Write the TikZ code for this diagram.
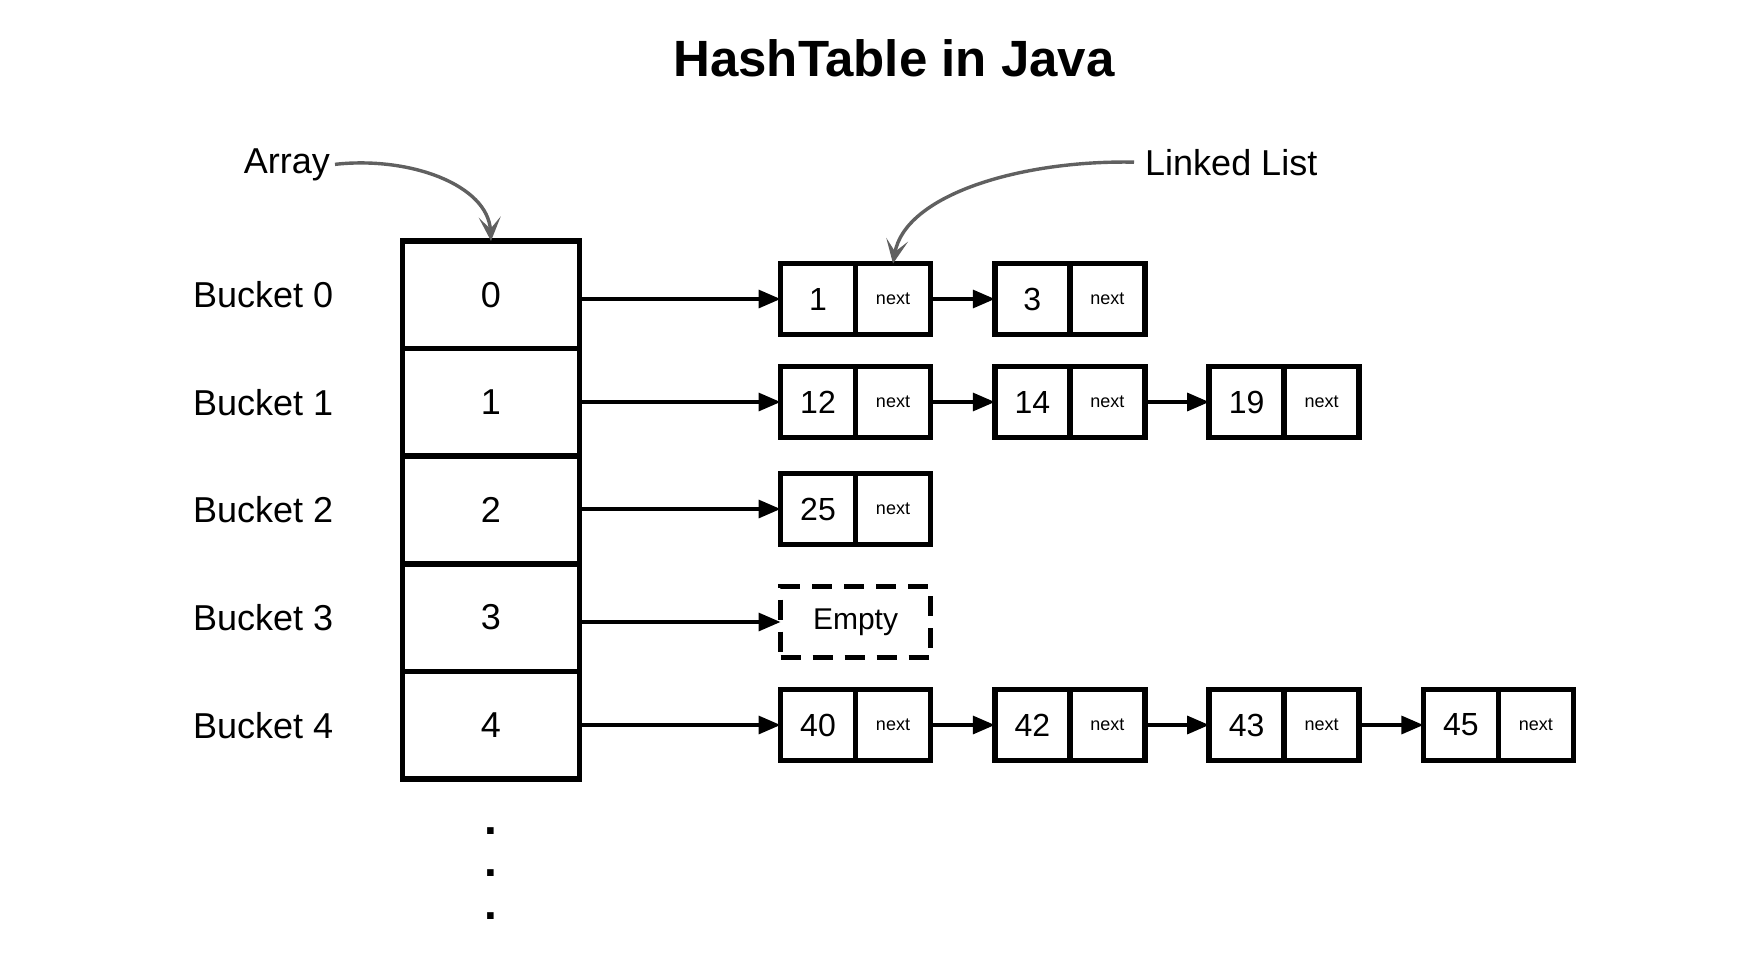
\documentclass[tikz,border=0pt]{standalone}
\usepackage{fontspec}
\setmainfont{Liberation Sans}
\usetikzlibrary{arrows.meta}
\definecolor{pgray}{HTML}{606060}
\tikzset{
  arrcell/.style={draw, line width=5.5pt, minimum width=177pt, minimum height=107.6pt, inner sep=0pt, outer sep=0pt, font=\fontsize{36}{36}\selectfont},
  cell/.style={draw, line width=5.5pt, minimum width=75pt, minimum height=71pt, inner sep=0pt, outer sep=0pt, font=\fontsize{32}{32}\selectfont},
  nextcell/.style={cell, font=\fontsize{18}{18}\selectfont},
  emptycell/.style={draw, line width=5.5pt, dash pattern=on 20pt off 12pt, minimum width=150pt, minimum height=71pt, inner sep=0pt, outer sep=0pt, font=\fontsize{30}{30}\selectfont},
  lbl/.style={inner sep=0pt, font=\fontsize{36}{36}\selectfont},
  link/.style={-{Triangle[length=22pt,width=18pt]}, line width=3.3pt},
  pointer/.style={-{Stealth[length=24pt,width=22pt,inset=12pt]}, line width=3.4pt, draw=pgray},
}
\newcommand\llnode[4]{%
  \node[cell] (#1) at (#2,#3) {#4};
  \node[nextcell, anchor=west] (#1n) at (#1.east) {next};}
\begin{document}
\begin{tikzpicture}[x=1pt,y=-1pt]
\useasboundingbox (0,0) rectangle (1756,974);
\fill[white] (0,0) rectangle (1756,974);
% title
\node[font=\fontsize{51}{51}\selectfont\bfseries, inner sep=0pt] (title) at (894,58) {HashTable in Java};
% array
\node[arrcell] (r0) at (491,294.8) {0};
\node[arrcell] (r1) at (491,402.4) {1};
\node[arrcell] (r2) at (491,510) {2};
\node[arrcell] (r3) at (491,617.6) {3};
\node[arrcell] (r4) at (491,725.2) {4};
% bucket labels
\node[lbl, anchor=west] (b0) at (193,294.8) {Bucket 0};
\node[lbl, anchor=west] (b1) at (193,402.4) {Bucket 1};
\node[lbl, anchor=west] (b2) at (193,510) {Bucket 2};
\node[lbl, anchor=west] (b3) at (193,617.6) {Bucket 3};
\node[lbl, anchor=west] (b4) at (193,725.2) {Bucket 4};
% dots
\node[inner sep=0pt, font=\fontsize{46}{46}\selectfont\bfseries, anchor=base] (d1) at (491,834) {.};
\node[inner sep=0pt, font=\fontsize{46}{46}\selectfont\bfseries, anchor=base] (d2) at (491,876) {.};
\node[inner sep=0pt, font=\fontsize{46}{46}\selectfont\bfseries, anchor=base] (d3) at (491,919) {.};
% linked lists
\llnode{a0}{818}{299}{1}
\llnode{a1}{1032.3}{299}{3}
\llnode{c0}{818}{402}{12}
\llnode{c1}{1032.3}{402}{14}
\llnode{c2}{1246.6}{402}{19}
\llnode{e0}{818}{509}{25}
\node[emptycell] (em) at (855.5,622) {Empty};
\llnode{g0}{818}{725}{40}
\llnode{g1}{1032.3}{725}{42}
\llnode{g2}{1246.6}{725}{43}
\llnode{g3}{1460.9}{725}{45}
% array to lists
\draw[link] (r0.east |- a0.west) -- (a0.west);
\draw[link] (r1.east |- c0.west) -- (c0.west);
\draw[link] (r2.east |- e0.west) -- (e0.west);
\draw[link] (r3.east |- em.west) -- (em.west);
\draw[link] (r4.east |- g0.west) -- (g0.west);
% list links
\draw[link] (a0n.east) -- (a1.west);
\draw[link] (c0n.east) -- (c1.west);
\draw[link] (c1n.east) -- (c2.west);
\draw[link] (g0n.east) -- (g1.west);
\draw[link] (g1n.east) -- (g2.west);
\draw[link] (g2n.east) -- (g3.west);
% labels with pointers
\node[lbl, anchor=base east] (arr) at (330,173) {Array};
\node[lbl, anchor=base west] (ll) at (1145,175) {Linked List};
\draw[pointer] ([xshift=5pt]arr.east) .. controls (410,156) and (488,185) .. (r0.north);
\draw[pointer] ([xshift=-11pt]ll.west) .. controls (1020,160) and (905,195) .. (a0n.north);
\end{tikzpicture}
\end{document}
